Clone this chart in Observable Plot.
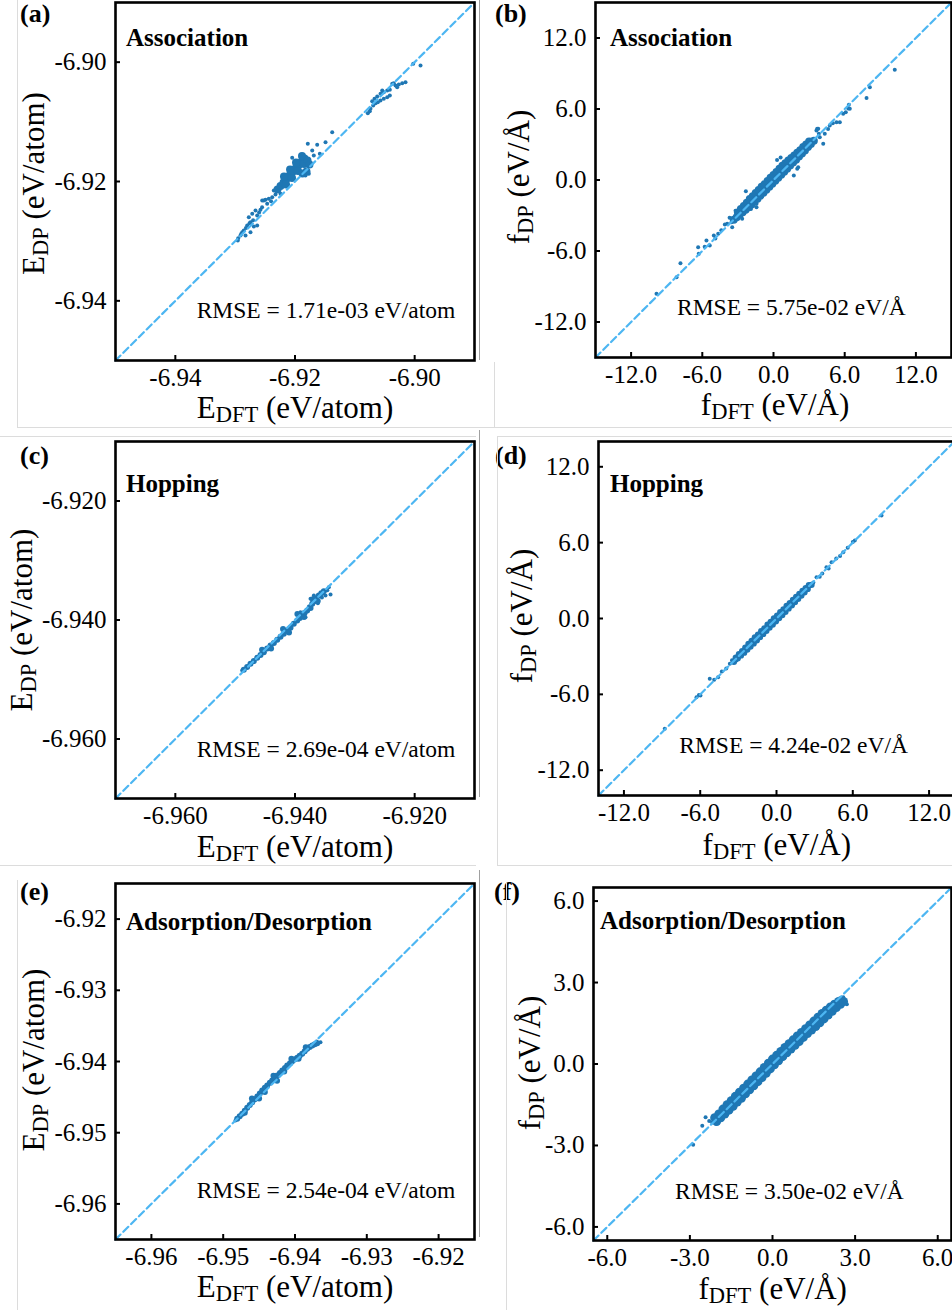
<!DOCTYPE html>
<html>
<head>
<meta charset="utf-8">
<script src="https://cdn.jsdelivr.net/npm/d3@7"></script>
<script src="https://cdn.jsdelivr.net/npm/@observablehq/plot@0.6"></script>
<style>
  body { margin: 0; background: #fff; }
  #fig { position: relative; width: 952px; height: 1310px; overflow: hidden; background: #fff; }
  #fig svg { position: absolute; }
</style>
</head>
<body>
<div id="fig"></div>
<script>
// ---- tick values and axis domains ----
const energyTicksA = [-6.94, -6.92, -6.90];
const energyTicksC = [-6.96, -6.94, -6.92];
const energyTicksE = [-6.96, -6.95, -6.94, -6.93, -6.92];
const forceTicksBD = [-12, -6, 0, 6, 12];
const forceTicksF = [-6, -3, 0, 3, 6];

const domainA = [-6.95, -6.89];
const domainB = [-15, 15];
const domainC = [-6.97, -6.91];
const domainD = [-14, 14];
const domainE = [-6.965, -6.915];
const domainF = [-6.5, 6.5];

const panelLetters = ["(a)", "(b)", "(c)", "(d)", "(e)", "(f)"];
const processNames = ["Association", "Association", "Hopping", "Hopping", "Adsorption/Desorption", "Adsorption/Desorption"];
const rmseLabels = [
  "RMSE = 1.71e-03 eV/atom", "RMSE = 5.75e-02 eV/Å",
  "RMSE = 2.69e-04 eV/atom", "RMSE = 4.24e-02 eV/Å",
  "RMSE = 2.54e-04 eV/atom", "RMSE = 3.50e-02 eV/Å"
];

// ---- [DFT, DP] pairs; "core" = densely packed part of each cloud ----
const assocEnergyCore = [
  [-6.92292,-6.92134],[-6.92242,-6.92075],[-6.92192,-6.92017],[-6.92142,-6.91960],[-6.92092,-6.91899],
  [-6.92042,-6.91842],[-6.91992,-6.91782],[-6.91941,-6.91728],[-6.91891,-6.91670],[-6.91841,-6.91614],
  [-6.92184,-6.91916],[-6.92083,-6.91799],[-6.91983,-6.91681],[-6.91883,-6.91572],
  [-6.92150,-6.92050],[-6.92050,-6.91941],[-6.91950,-6.91824],[-6.91849,-6.91707],[-6.91791,-6.91648],
  [-6.91758,-6.91715],[-6.91808,-6.91832],[-6.91875,-6.91866]
];
const assocEnergyScatter = [
  [-6.91378,-6.91174],[-6.91490,-6.91341],[-6.91629,-6.91385],[-6.91786,-6.91368],[-6.91712,-6.91480],
  [-6.91585,-6.91536],[-6.91686,-6.91564],[-6.91769,-6.91871],[-6.91824,-6.91899],[-6.92047,-6.91603],
  [-6.92242,-6.92206],[-6.92493,-6.92307],[-6.92548,-6.92318],[-6.92438,-6.92290],[-6.92577,-6.92474],
  [-6.92660,-6.92486],[-6.92715,-6.92541],[-6.92772,-6.92598],[-6.92744,-6.92682],[-6.92688,-6.92754],
  [-6.92799,-6.92737],[-6.92856,-6.92821],[-6.92911,-6.92905],[-6.92956,-6.92989],[-6.92827,-6.92905],
  [-6.92744,-6.92850],[-6.92882,-6.92850],[-6.92632,-6.92570],[-6.92465,-6.92374],[-6.92381,-6.92263],
  [-6.92326,-6.92218],[-6.92297,-6.92122],[-6.92354,-6.92151],[-6.92632,-6.92737],[-6.92521,-6.92318],
  [-6.92700,-6.92650],[-6.92760,-6.92700],[-6.92600,-6.92520],[-6.92900,-6.92880],[-6.92950,-6.92950],
  [-6.92820,-6.92780],[-6.92550,-6.92430],[-6.92400,-6.92330],
  [-6.90783,-6.90855],[-6.90738,-6.90782],[-6.90693,-6.90726],[-6.90654,-6.90688],[-6.90616,-6.90671],
  [-6.90571,-6.90642],[-6.90516,-6.90614],[-6.90459,-6.90587],[-6.90415,-6.90559],[-6.90710,-6.90654],
  [-6.90671,-6.90614],[-6.90626,-6.90575],[-6.90571,-6.90530],[-6.90516,-6.90503],[-6.90459,-6.90475],
  [-6.90415,-6.90463],[-6.90375,-6.90363],[-6.90320,-6.90391],[-6.90265,-6.90374],[-6.90208,-6.90353],
  [-6.90153,-6.90336],[-6.90292,-6.90420],[-6.90349,-6.90353],[-6.90024,-6.90027],[-6.89902,-6.90056],
  [-6.90750,-6.90822],[-6.90542,-6.90475]
];

const assocForceCore = [
  [-3.0,-2.75],[-2.75,-2.45],[-2.5,-2.2],[-2.25,-1.92],[-2.0,-1.6],[-1.75,-1.38],[-1.5,-1.1],[-1.25,-0.85],
  [-1.0,-0.58],[-0.75,-0.35],[-0.5,-0.08],[-0.25,0.18],[0.0,0.42],[0.25,0.68],[0.5,0.95],[0.75,1.2],
  [1.0,1.42],[1.25,1.65],[1.5,1.85],[1.75,2.08],[2.0,2.3],[2.25,2.52],[2.5,2.78],[2.75,3.0],[3.0,3.25],
  [-3.35,-3.35],[-3.1,-3.15],[-2.85,-2.92],[-2.6,-2.72],[-2.35,-2.52],[-2.1,-2.3],[-1.85,-2.06],[-1.6,-1.82],
  [-1.35,-1.58],[-1.1,-1.33],[-0.85,-1.08],[-0.6,-0.83],[-0.35,-0.57],[-0.1,-0.32],[0.15,-0.06],[0.4,0.18],
  [0.65,0.44],[0.9,0.7],[1.15,0.95],[1.4,1.22],[1.65,1.47],[1.9,1.72],[2.15,1.98],[2.4,2.23],[2.65,2.5],
  [2.9,2.78],[3.15,3.05],[3.4,3.32]
];
const assocForceScatter = [
  [-9.86,-9.62],[-8.17,-8.21],[-7.84,-7.03],[-6.35,-5.68],[-6.30,-6.24],[-5.65,-5.11],[-5.37,-5.54],
  [-5.03,-4.69],[-4.66,-4.55],[-4.10,-3.76],[-4.4,-4.25],[-4.9,-4.95],[-5.8,-5.65],[-3.54,-3.57],
  [-3.9,-3.7],[-3.48,-3.99],[-2.64,-3.28],[-2.55,-2.86],[-2.33,-0.95],[-1.43,-2.30],[-1.9,-2.45],
  [-3.2,-2.6],[-3.7,-3.2],[2.08,1.08],[2.0,0.95],[1.71,0.38],[4.19,3.06],[3.06,2.77],[3.62,4.18],
  [3.77,4.33],[3.68,4.33],[3.82,3.90],[3.90,3.62],[4.32,3.90],[4.6,4.3],[4.74,4.61],[5.0,4.8],
  [5.31,4.89],[5.59,4.89],[5.87,5.59],[6.09,5.73],[6.3,6.05],[6.43,6.02],[6.35,6.35],[7.84,6.94],
  [8.12,7.84],[10.22,9.31],[0.3,1.7],[0.6,1.9],[-1.43,-2.0]
];

const hopEnergyCore = [
  [-6.94856,-6.94837],[-6.94800,-6.94790],[-6.94744,-6.94736],[-6.94688,-6.94690],[-6.94632,-6.94635],
  [-6.94577,-6.94590],[-6.94521,-6.94541],[-6.94465,-6.94480],[-6.94409,-6.94429],[-6.94353,-6.94385],
  [-6.94297,-6.94333],[-6.94242,-6.94280],[-6.94187,-6.94232],[-6.94131,-6.94180],[-6.94075,-6.94131],
  [-6.94020,-6.94065],[-6.93963,-6.94008],[-6.93920,-6.93965],[-6.93879,-6.93924],[-6.93838,-6.93880],
  [-6.93796,-6.93840],[-6.93754,-6.93785],[-6.93712,-6.93728],[-6.93685,-6.93690],[-6.93657,-6.93644],
  [-6.93602,-6.93588],[-6.93560,-6.93550],[-6.93518,-6.93516],
  [-6.94200,-6.94150],[-6.94100,-6.94210],[-6.93960,-6.93900],[-6.93850,-6.93950],[-6.93700,-6.93650],
  [-6.93740,-6.93800],[-6.94400,-6.94480],[-6.94550,-6.94500],[-6.93620,-6.93680]
];
const hopEnergyScatter = [
  [-6.93435,-6.93449],[-6.93406,-6.93571],[-6.93490,-6.93588],[-6.93741,-6.93644],[-6.93685,-6.93588],
  [-6.93618,-6.93718],[-6.93908,-6.93869],[-6.93824,-6.93953],[-6.94882,-6.94849],[-6.93460,-6.93500],
  [-6.93550,-6.93620]
];

const hopForceCore = [
  [-3.2,-3.1],[-2.95,-2.82],[-2.7,-2.58],[-2.45,-2.3],[-2.2,-2.02],[-1.95,-1.78],[-1.7,-1.5],[-1.45,-1.28],
  [-1.2,-1.0],[-0.95,-0.78],[-0.7,-0.5],[-0.45,-0.28],[-0.2,0.0],[0.05,0.22],[0.3,0.5],[0.55,0.72],
  [0.8,1.0],[1.05,1.22],[1.3,1.46],[1.55,1.7],[1.8,1.95],[2.05,2.18],[2.3,2.4],[2.55,2.63],
  [-3.35,-3.42],[-3.05,-3.15],[-2.8,-2.92],[-2.55,-2.7],[-2.3,-2.46],[-2.05,-2.22],[-1.8,-1.97],[-1.55,-1.72],
  [-1.3,-1.47],[-1.05,-1.22],[-0.8,-0.97],[-0.55,-0.72],[-0.3,-0.47],[-0.05,-0.22],[0.2,0.03],[0.45,0.28],
  [0.7,0.53],[0.95,0.8],[1.2,1.05],[1.45,1.3],[1.7,1.56],[1.95,1.82],[2.2,2.08],[2.45,2.34],[2.75,2.66]
];
const hopForceScatter = [
  [-8.79,-8.72],[-6.29,-6.22],[-6.1,-6.05],[-5.98,-6.09],[-5.25,-4.77],[-4.9,-4.85],[-4.59,-4.64],
  [-4.3,-4.2],[-3.95,-3.95],[-3.67,-3.58],[-3.15,-3.32],[-3.5,-3.3],[2.62,2.61],[2.9,2.85],[3.15,3.26],
  [3.4,3.3],[3.6,3.55],[3.93,4.05],[4.1,3.95],[4.33,4.45],[4.7,4.75],[5.0,4.95],[5.25,5.24],[5.6,5.6],
  [6.16,6.17],[6.0,6.05],[8.26,8.15]
];

const adsEnergyCore = [
  [-6.94805,-6.94805],[-6.94770,-6.94770],[-6.94735,-6.94735],[-6.94700,-6.94690],[-6.94666,-6.94650],
  [-6.94630,-6.94610],[-6.94596,-6.94572],[-6.94560,-6.94530],[-6.94526,-6.94492],[-6.94490,-6.94450],
  [-6.94457,-6.94407],[-6.94420,-6.94370],[-6.94387,-6.94337],[-6.94350,-6.94300],[-6.94318,-6.94267],
  [-6.94280,-6.94230],[-6.94248,-6.94197],[-6.94210,-6.94160],[-6.94178,-6.94126],[-6.94140,-6.94090],
  [-6.94109,-6.94056],[-6.94070,-6.94025],[-6.94039,-6.93996],[-6.94000,-6.93970],[-6.93969,-6.93948],
  [-6.93935,-6.93920],[-6.93900,-6.93892],[-6.93865,-6.93855],[-6.93830,-6.93822],[-6.93795,-6.93798],
  [-6.93760,-6.93775],[-6.93725,-6.93758],[-6.93691,-6.93743],
  [-6.94600,-6.94520],[-6.94420,-6.94430],[-6.94300,-6.94200],[-6.94150,-6.94140],[-6.94050,-6.93960],
  [-6.93950,-6.93960],[-6.93850,-6.93800],[-6.94500,-6.94520],[-6.94700,-6.94720],[-6.94250,-6.94270]
];
const adsEnergyScatter = [
  [-6.94829,-6.94829],[-6.93645,-6.93729],[-6.93700,-6.93720]
];

const adsForceCore = [
  [-2.1,-1.98],[-1.95,-1.84],[-1.8,-1.66],[-1.65,-1.5],[-1.5,-1.35],[-1.35,-1.19],[-1.2,-1.04],[-1.05,-0.89],
  [-0.9,-0.74],[-0.75,-0.59],[-0.6,-0.44],[-0.45,-0.29],[-0.3,-0.13],[-0.15,0.03],[0.0,0.18],[0.15,0.32],
  [0.3,0.46],[0.45,0.61],[0.6,0.75],[0.75,0.89],[0.9,1.03],[1.05,1.16],[1.2,1.3],[1.35,1.44],[1.5,1.58],
  [1.65,1.72],[1.8,1.86],[1.95,1.98],[2.1,2.1],[2.25,2.2],[2.4,2.3],
  [-2.03,-2.12],[-1.88,-1.98],[-1.73,-1.84],[-1.58,-1.7],[-1.43,-1.56],[-1.28,-1.4],[-1.13,-1.26],
  [-0.98,-1.1],[-0.83,-0.95],[-0.68,-0.8],[-0.53,-0.65],[-0.38,-0.5],[-0.23,-0.34],[-0.08,-0.18],
  [0.07,-0.03],[0.22,0.12],[0.37,0.27],[0.52,0.41],[0.67,0.55],[0.82,0.69],[0.97,0.83],[1.12,0.98],
  [1.27,1.12],[1.42,1.25],[1.57,1.38],[1.72,1.52],[1.87,1.66],[2.02,1.8],[2.17,1.94],[2.32,2.08],
  [2.47,2.2],[2.58,2.3]
];
const adsForceScatter = [
  [-2.88,-2.97],[-2.55,-2.27],[-2.43,-1.96],[-2.19,-2.15],[-2.3,-2.1],[-2.05,-2.2],
  [2.63,2.28],[2.57,2.46],[2.7,2.2],[2.45,2.42]
];

// ---- panel contents ----
const panels = [
  {kind: "E", domain: domainA, ticks: energyTicksA, digits: 2, core: assocEnergyCore, scatter: assocEnergyScatter},
  {kind: "f", domain: domainB, ticks: forceTicksBD, digits: 1, core: assocForceCore, scatter: assocForceScatter},
  {kind: "E", domain: domainC, ticks: energyTicksC, digits: 3, core: hopEnergyCore, scatter: hopEnergyScatter},
  {kind: "f", domain: domainD, ticks: forceTicksBD, digits: 1, core: hopForceCore, scatter: hopForceScatter},
  {kind: "E", domain: domainE, ticks: energyTicksE, digits: 2, core: adsEnergyCore, scatter: adsEnergyScatter},
  {kind: "f", domain: domainF, ticks: forceTicksF, digits: 1, core: adsForceCore, scatter: adsForceScatter}
];

// ---- layout of each panel (pixels within its cell) ----
const layout = [
  {cell: [0, 0, 476, 430],     frame: [115, 2, 359, 358],  coreR: 4,   letter: [20, 22], title: [126, 46],   rmse: [196.7, 318.3], xlab: [295, 417.5],   ylab: [43.5, 183.5]},
  {cell: [476, 0, 476, 430],   frame: [119, 2, 356, 355],  coreR: 4,   letter: [19, 22], title: [134, 46],   rmse: [201, 315],     xlab: [299, 415],     ylab: [52.7, 177]},
  {cell: [0, 430, 476, 440],   frame: [115, 11, 359, 357], coreR: 3,   letter: [20, 34], title: [126, 61.7], rmse: [196.7, 326.7], xlab: [295, 427],     ylab: [31.5, 190]},
  {cell: [476, 430, 478, 440], frame: [122, 11, 356, 354], coreR: 3.2, letter: [19, 34], title: [134, 61.7], rmse: [203.3, 323.3], xlab: [300.8, 425],   ylab: [56, 186]},
  {cell: [0, 870, 476, 440],   frame: [115, 13, 359, 356], coreR: 3,   letter: [20, 30], title: [126, 60],   rmse: [196.7, 328.3], xlab: [295, 427],     ylab: [44.3, 190]},
  {cell: [476, 870, 476, 440], frame: [117, 17, 358, 353], coreR: 4.5, letter: [18, 30], title: [124, 59],   rmse: [199, 329.3],   xlab: [296.7, 428.5], ylab: [64.3, 193]}
];

const SERIF = '"Liberation Serif", "Times New Roman", Times, serif';
const DOT = "#1f77b4";
const DIAG = "#4db6f2";
const fig = document.getElementById("fig");

function plainText(sel, pos, str, size, bold) {
  sel.append("text")
    .attr("x", pos[0]).attr("y", pos[1])
    .attr("text-anchor", "start")
    .attr("font-family", SERIF)
    .attr("font-weight", bold ? "bold" : "normal")
    .attr("font-size", size)
    .attr("fill", "black")
    .text(str);
}

function subLabel(sel, x, y, main, sub, rest, rotate) {
  const t = sel.append("text")
    .attr("transform", rotate ? `translate(${x},${y}) rotate(-90)` : `translate(${x},${y})`)
    .attr("text-anchor", "middle")
    .attr("font-family", SERIF)
    .attr("font-size", 31)
    .attr("fill", "black");
  t.append("tspan").text(main);
  t.append("tspan").attr("font-size", 22.5).attr("dy", 4).text(sub);
  t.append("tspan").attr("dy", -4).text(" " + rest);
}

panels.forEach((P, i) => {
  const L = layout[i];
  const [cx, cy, cw, ch] = L.cell;
  const [fl, ft, fw, fh] = L.frame;
  const fmt = d => d.toFixed(P.digits);
  const chart = Plot.plot({
    width: cw,
    height: ch,
    marginLeft: fl,
    marginTop: ft,
    marginRight: cw - fl - fw,
    marginBottom: ch - ft - fh,
    x: {domain: P.domain, label: null},
    y: {domain: P.domain, label: null},
    style: {fontFamily: SERIF, fontSize: "25px", color: "black", background: "white", overflow: "visible"},
    marks: [
      Plot.dot(P.scatter, {x: d => d[0], y: d => d[1], r: 2, fill: DOT}),
      Plot.dot(P.core, {x: d => d[0], y: d => d[1], r: L.coreR, fill: DOT}),
      Plot.line([P.domain[0], P.domain[1]].map(v => [v, v]), {
        x: d => d[0], y: d => d[1], stroke: DIAG, strokeWidth: 2.2, strokeDasharray: "7,4"
      }),
      Plot.frame({stroke: "black", strokeWidth: 2.6}),
      Plot.tickX(P.ticks, {x: d => d, insetTop: fh - 5, stroke: "black", strokeWidth: 2}),
      Plot.tickY(P.ticks, {y: d => d, insetRight: fw - 5, stroke: "black", strokeWidth: 2}),
      Plot.axisX({ticks: P.ticks, tickFormat: fmt, tickSize: 0, tickPadding: 8, fontSize: 25, label: null}),
      Plot.axisY({ticks: P.ticks, tickFormat: fmt, tickSize: 0, tickPadding: 9, fontSize: 25, label: null})
    ]
  });
  chart.style.left = cx + "px";
  chart.style.top = cy + "px";
  fig.appendChild(chart);

  const s = d3.select(chart);
  plainText(s, L.letter, panelLetters[i], 26, true);
  plainText(s, L.title, processNames[i], 25, true);
  plainText(s, L.rmse, rmseLabels[i], 23.5, false);

  const unit = P.kind === "E" ? "(eV/atom)" : "(eV/Å)";
  subLabel(s, L.xlab[0], L.xlab[1], P.kind, "DFT", unit, false);
  subLabel(s, L.ylab[0], L.ylab[1], P.kind, "DP", unit, true);
});

// thin edges between the sub-figures
const edges = [
  [17.5, 0, 17.5, 427, "#dcdcdc"], [17, 427.5, 952, 427.5, "#dcdcdc"], [494.5, 362, 494.5, 427, "#dcdcdc"],
  [479.5, 0, 479.5, 360, "#a0a0a0"],
  [0, 436.5, 476, 436.5, "#dcdcdc"], [497, 436.5, 952, 436.5, "#dcdcdc"],
  [0, 865.5, 476, 865.5, "#dcdcdc"], [497, 865.5, 952, 865.5, "#dcdcdc"],
  [497.5, 436, 497.5, 865, "#dcdcdc"], [479.5, 430, 479.5, 797, "#a0a0a0"],
  [17.5, 880, 17.5, 1310, "#dcdcdc"], [506.5, 883, 506.5, 1310, "#dcdcdc"],
  [479.5, 870, 479.5, 1237, "#a0a0a0"]
];
const overlay = d3.select(fig).append("svg")
  .attr("width", 952).attr("height", 1310)
  .style("left", "0px").style("top", "0px").style("pointer-events", "none");
overlay.selectAll("line").data(edges).join("line")
  .attr("x1", d => d[0]).attr("y1", d => d[1]).attr("x2", d => d[2]).attr("y2", d => d[3])
  .attr("stroke", d => d[4]).attr("stroke-width", 1);
</script>
</body>
</html>
